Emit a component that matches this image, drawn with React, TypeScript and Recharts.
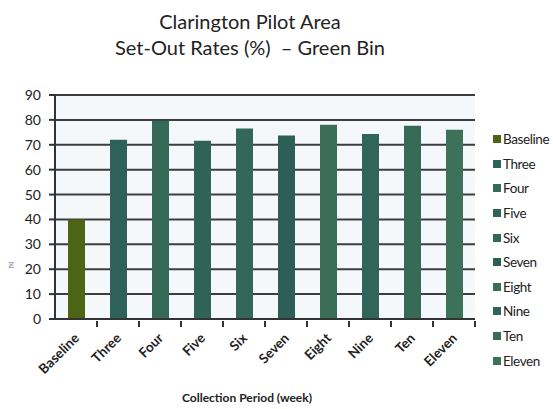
import { BarChart, Bar, Cell, XAxis, YAxis, CartesianGrid } from "recharts"

const weeks = ["Baseline", "Three", "Four", "Five", "Six", "Seven", "Eight", "Nine", "Ten", "Eleven"]
const setOutRates = [40, 72, 79.7, 71.6, 76.5, 73.7, 78, 74.3, 77.6, 76]
const barColors = ["#4d6417", "#2e6159", "#356a58", "#2f6357", "#336858", "#2d5f56", "#3a6e57", "#31655a", "#376b55", "#3c7259"]
const yTicks = [0, 10, 20, 30, 40, 50, 60, 70, 80, 90]

const data = weeks.map((week, i) => ({ week, rate: setOutRates[i] }))

const font = "Lato, 'Open Sans', sans-serif"
const halfBand = (475 - 55) / weeks.length / 2

function WeekTick(props: any) {
  const { x, y, payload } = props
  return (
    <g>
      <line x1={x + halfBand} y1={y - 6} x2={x + halfBand} y2={y} stroke="#333" strokeWidth={2} />
      <text
        x={x + 4}
        y={y + 12}
        textAnchor="end"
        transform={`rotate(-45 ${x + 4} ${y + 12})`}
        fontSize={13.5}
        fontWeight={700}
        fill="#222"
        fontFamily={font}
      >
        {payload.value}
      </text>
    </g>
  )
}

function WeekLegend() {
  return (
    <div style={{ position: "absolute", left: 493, top: 127, width: 60, fontFamily: font, fontSize: 13.5, letterSpacing: -0.4, color: "#222", whiteSpace: "nowrap" }}>
      {weeks.map((w, i) => (
        <div key={w} style={{ display: "flex", alignItems: "center", height: 24.6 }}>
          <span style={{ width: 8, height: 8, flex: "none", background: barColors[i], marginRight: 2 }} />
          {w}
        </div>
      ))}
    </div>
  )
}

export default function App() {
  return (
    <div style={{ position: "absolute", left: 0, top: 0, width: 553, height: 409, background: "#fff", overflow: "hidden" }}>
      <div style={{ position: "absolute", left: 0, width: 500, top: 8, textAlign: "center", fontFamily: font, fontSize: 20, lineHeight: "26px", color: "#222" }}>
        Clarington Pilot Area
        <br />
        Set-Out Rates (%)&nbsp;&nbsp;– Green Bin
      </div>
      <div style={{ position: "absolute", left: 0, width: 494, top: 390, textAlign: "center", fontFamily: font, fontSize: 12, fontWeight: 700, color: "#222" }}>
        Collection Period (week)
      </div>
      <div style={{ position: "absolute", left: 8, top: 262, fontSize: 5, fontFamily: font, color: "#446", transform: "rotate(-90deg)" }}>
        (%)
      </div>
      <WeekLegend />
      <BarChart width={553} height={409} data={data} margin={{ top: 95, right: 78, bottom: 0, left: 10 }}>
        <CartesianGrid horizontal vertical={false} stroke="#3d3d3d" strokeWidth={2} fill="#f4f8fb" />
        <XAxis dataKey="week" axisLine={{ stroke: "#333", strokeWidth: 2 }} tickLine={false} tick={<WeekTick />} interval={0} height={90} />
        <YAxis
          domain={[0, 90]}
          ticks={yTicks}
          interval={0}
          width={45}
          axisLine={{ stroke: "#333", strokeWidth: 2 }}
          tickLine={{ stroke: "#333", strokeWidth: 2 }}
          tickSize={6}
          tick={{ fontSize: 14, fill: "#222", fontFamily: font }}
          tickMargin={8}
        />
        <Bar dataKey="rate" isAnimationActive={false} barSize={17}>
          {data.map((d, i) => (
            <Cell key={d.week} fill={barColors[i]} />
          ))}
        </Bar>
      </BarChart>
    </div>
  )
}
